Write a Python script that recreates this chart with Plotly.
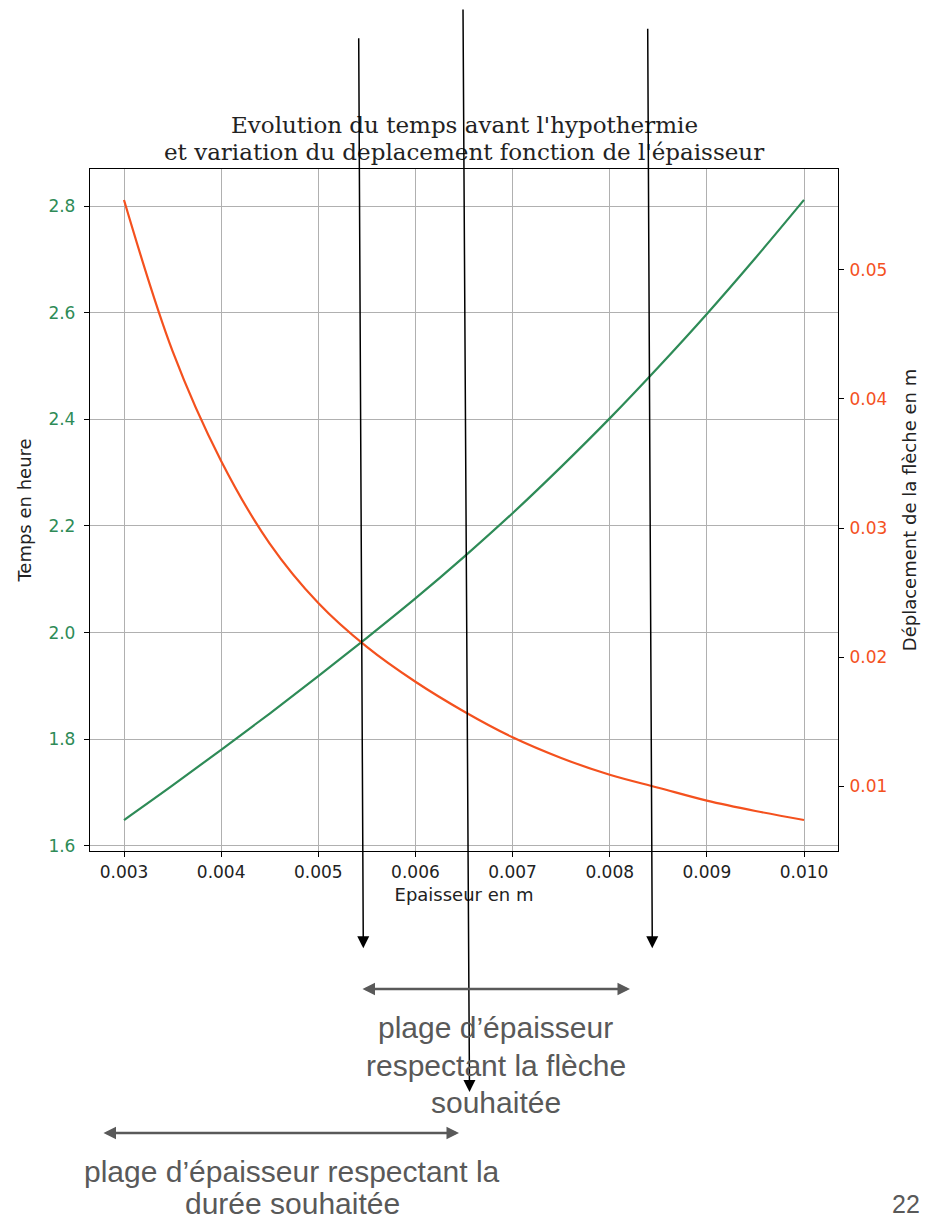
import plotly.graph_objects as go

# ---------------- data ----------------
epaisseur = [0.003, 0.0035, 0.004, 0.0045, 0.005, 0.0055, 0.006, 0.0065,
             0.007, 0.0075, 0.008, 0.0085, 0.009, 0.0095, 0.010]
temps_heure = [1.648, 1.713, 1.780, 1.848, 1.918, 1.990, 2.064, 2.142,
               2.224, 2.311, 2.402, 2.498, 2.598, 2.703, 2.812]
deplacement = [0.0554, 0.0437, 0.0352, 0.0288, 0.0242, 0.0208, 0.0181, 0.0158,
               0.0138, 0.0122, 0.0109, 0.0099, 0.0089, 0.0081, 0.0074]

title_lines = ["Evolution du temps avant l'hypothermie",
               "et variation du deplacement fonction de l'épaisseur"]
x_label = "Epaisseur en m"
y_label = "Temps en heure"
y2_label = "Déplacement de la flèche en m"
txt_fleche = ["plage d’épaisseur", "respectant la flèche", "souhaitée"]
txt_duree = ["plage d’épaisseur respectant la", "durée souhaitée"]
page_num = "22"

# ---------------- layout geometry (page pixels) ----------------
OFF = 8                      # default body margin of the html page
PAGE_W, PAGE_H = 930, 1223
PLOT_L, PLOT_R, PLOT_T, PLOT_B = 90, 838, 169, 851
W, H = PAGE_W - OFF, PAGE_H - OFF
ML, MT = PLOT_L - OFF, PLOT_T - OFF
MR, MB = PAGE_W - PLOT_R, PAGE_H - PLOT_B
PW = PLOT_R - PLOT_L
PH = PLOT_B - PLOT_T

GREEN = "#2e8b57"
ORANGE = "#f4511e"
GRAY = "#595959"


def px(x):
    return (x - PLOT_L) / PW


def py(y):
    return (PLOT_B - y) / PH


fig = go.Figure()
fig.add_trace(go.Scatter(x=epaisseur, y=temps_heure, mode="lines",
                         line=dict(color=GREEN, width=2.2, shape="spline"),
                         showlegend=False))
fig.add_trace(go.Scatter(x=epaisseur, y=deplacement, mode="lines",
                         line=dict(color=ORANGE, width=2.2, shape="spline"),
                         yaxis="y2", showlegend=False))

ann = []
for t, yc in zip(title_lines, [125, 152]):
    ann.append(dict(text=t, x=px(464), y=py(yc), xref="paper", yref="paper",
                    showarrow=False, xanchor="center", yanchor="middle",
                    font=dict(family="DejaVu Serif", size=23, color="#222222")))

black_arrows = [((358.7, 36.7), (363.3, 948.3)),
                ((463.0, 6.0), (469.5, 1092.0)),
                ((647.7, 27.3), (652.3, 948.3))]
for (tx, ty), (hx, hy) in black_arrows:
    ann.append(dict(text="", x=px(hx), y=py(hy), xref="paper", yref="paper",
                    ax=tx - hx, ay=ty - hy, axref="pixel", ayref="pixel",
                    showarrow=True, arrowhead=2, arrowsize=1.6, arrowwidth=1.5,
                    arrowcolor="black", standoff=0, startstandoff=0))

gray_arrows = [((361, 989), (630, 989)), ((102, 1133), (459, 1133))]
for (tx, ty), (hx, hy) in gray_arrows:
    ann.append(dict(text="", x=px(hx), y=py(hy), xref="paper", yref="paper",
                    ax=tx - hx, ay=ty - hy, axref="pixel", ayref="pixel",
                    showarrow=True, arrowhead=2, arrowsize=1.0, arrowwidth=2.5,
                    arrowside="end+start",
                    arrowcolor=GRAY, standoff=0, startstandoff=0))

for t, yc in zip(txt_fleche, [1027, 1065, 1102]):
    ann.append(dict(text=t, x=px(496), y=py(yc), xref="paper", yref="paper",
                    showarrow=False, xanchor="center", yanchor="middle",
                    font=dict(family="Liberation Sans", size=30, color=GRAY)))
for t, yc in zip(txt_duree, [1171, 1203]):
    ann.append(dict(text=t, x=px(292), y=py(yc), xref="paper", yref="paper",
                    showarrow=False, xanchor="center", yanchor="middle",
                    font=dict(family="Liberation Sans", size=30, color=GRAY)))
ann.append(dict(text=page_num, x=px(906), y=py(1204), xref="paper", yref="paper",
                showarrow=False, xanchor="center", yanchor="middle",
                font=dict(family="Liberation Sans", size=25, color=GRAY)))

axis_common = dict(showline=True, linecolor="black", linewidth=1.3,
                   ticks="outside", ticklen=5, tickwidth=1, tickcolor="black",
                   zeroline=False)

fig.update_layout(
    width=W, height=H,
    margin=dict(l=ML, r=MR, t=MT, b=MB, autoexpand=False),
    paper_bgcolor="white", plot_bgcolor="white",
    showlegend=False,
    font=dict(family="DejaVu Sans", size=17, color="#222222"),
    xaxis=dict(range=[0.00265, 0.01035], tick0=0.003, dtick=0.001,
               tickformat=".3f", showgrid=True, gridcolor="#b0b0b0", gridwidth=1,
               mirror=True,
               title=dict(text=x_label, font=dict(size=18, color="#222222"), standoff=7),
               tickfont=dict(size=17, color="#222222"), **axis_common),
    yaxis=dict(range=[1.590, 2.870], tick0=1.6, dtick=0.2, tickformat=".1f",
               showgrid=True, gridcolor="#b0b0b0", gridwidth=1, mirror=True,
               ticklabelstandoff=5,
               title=dict(text=y_label, font=dict(size=18, color="#222222"), standoff=12),
               tickfont=dict(size=17, color=GREEN), **axis_common),
    yaxis2=dict(range=[0.0050, 0.0578], tick0=0.01, dtick=0.01, tickformat=".2f",
                overlaying="y", side="right", showgrid=False,
                ticklabelstandoff=2,
                title=dict(text=y2_label, font=dict(size=18, color="#222222"), standoff=16),
                tickfont=dict(size=17, color=ORANGE), **axis_common),
    annotations=ann,
)

fig.write_html("out.html")
